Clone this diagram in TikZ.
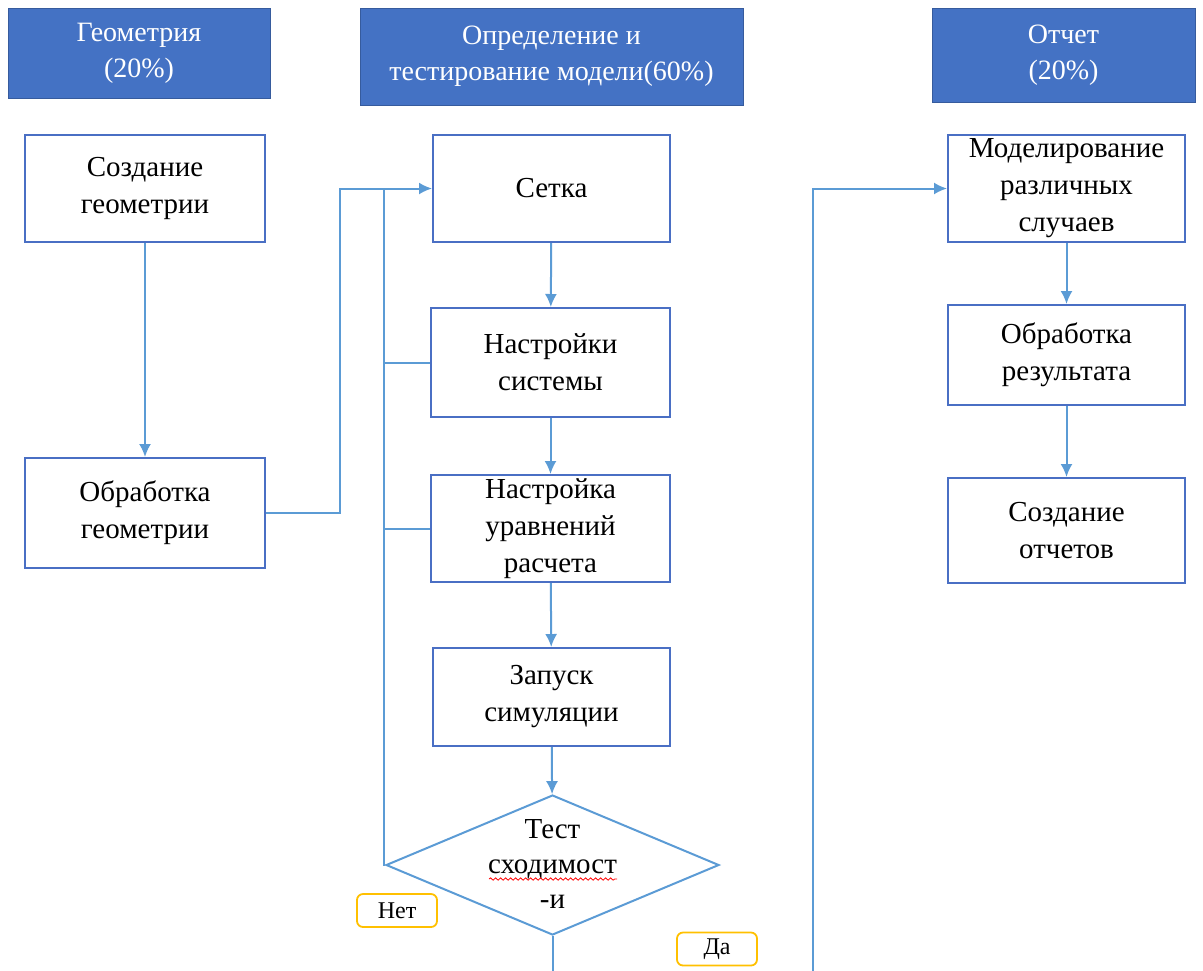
\documentclass[tikz,border=0pt]{standalone}
\usepackage{fontspec}
\setmainfont{Liberation Serif}
\usepackage{tikz}
\usetikzlibrary{shapes,shapes.geometric}
\usetikzlibrary{arrows.meta}
\usetikzlibrary{decorations.pathmorphing}
\definecolor{shapka}{HTML}{4472C4}
\definecolor{ramka}{HTML}{4A6FC4}
\definecolor{strelka}{HTML}{5B9BD5}
\definecolor{metka}{HTML}{FFC000}
\begin{document}
\begin{tikzpicture}[x=0.5pt,y=-0.5pt,
	header/.style={fill=shapka,draw=shapka!80!black,text=white,align=center,font=\fontsize{14}{18}\selectfont,inner sep=0},
	box/.style={draw=ramka,line width=1pt,fill=white,align=center,font=\fontsize{14.5}{18.5}\selectfont,inner sep=0},
	decision/.style={diamond,draw=strelka,line width=1pt,inner sep=0,minimum width=166.5pt,minimum height=70pt},
	tag/.style={draw=metka,line width=0.9pt,rounded corners=3pt,minimum width=40pt,minimum height=16.5pt,font=\fontsize{12}{14}\selectfont,inner sep=0},
	line/.style={draw=strelka,line width=1pt},
	conn/.style={line,-{Latex[length=6.5pt,width=6pt]}}]
			\useasboundingbox (0,0) rectangle (1203,970);
			
			\node[header,minimum width=131pt,minimum height=45pt] (geom) at (139,53) {Геометрия\\(20\%)};
			\node[header,minimum width=191.5pt,minimum height=48.5pt] (model) at (551.5,56.5) {Определение и\\тестирование модели(60\%)};
			\node[header,minimum width=131.5pt,minimum height=47pt] (otchet) at (1063.5,55) {Отчет\\(20\%)};
			
			\node[box,minimum width=120pt,minimum height=53.5pt] (sozd) at (145,188.5) {Создание\\геометрии};
			\node[box,minimum width=120pt,minimum height=55pt] (obrgeo) at (145,513) {Обработка\\геометрии};
			
			\node[box,minimum width=118.5pt,minimum height=53.5pt] (setka) at (551.5,188.5) {Сетка};
			\node[box,minimum width=119.5pt,minimum height=54.5pt] (nastr) at (550.5,362.5) {Настройки\\системы};
			\node[box,minimum width=119.5pt,minimum height=53.5pt] (uravn) at (550.5,528.5) {Настройка\\уравнений\\расчета};
			\node[box,minimum width=118.5pt,minimum height=49pt] (zapusk) at (551.5,697) {Запуск\\симуляции};
			\node[decision] (test) at (552.5,865) {};
			\node[align=center,font=\fontsize{14.5}{17.5}\selectfont] (testtxt) at (552.5,864) {Тест\\сходимост\\-и};
			\draw[red,line width=0.4pt,decorate,decoration={snake,amplitude=0.6pt,segment length=2.5pt}] (489,879) -- (617,879);
			
			\node[box,minimum width=118.5pt,minimum height=53.5pt] (modsl) at (1066.5,188.5) {Моделирование\\различных\\случаев};
			\node[box,minimum width=118.5pt,minimum height=50pt] (obrres) at (1066.5,355) {Обработка\\результата};
			\node[box,minimum width=118.5pt,minimum height=52.5pt] (otch) at (1066.5,530.5) {Создание\\отчетов};
			
			\node[tag] (net) at (397,910.5) {Нет};
			\node[tag] (da) at (717,949) {Да};
			
			\coordinate (bend1) at (340,188.5);
			\coordinate (loopx) at (384,188.5);
			\coordinate (niz1) at (552.5,972);
			\coordinate (niz2) at (813,972);
			
			\draw[conn] (sozd) -- (obrgeo);
			\draw[conn] (obrgeo.east) -| (bend1) -- (setka.west);
			\draw[line] (loopx) |- (test.west);
			\draw[line] (loopx |- nastr.west) -- (nastr.west);
			\draw[line] (loopx |- uravn.west) -- (uravn.west);
			\draw[conn] (setka) -- (nastr);
			\draw[conn] (nastr) -- (uravn);
			\draw[conn] (uravn) -- (zapusk);
			\draw[conn] (zapusk) -- (test);
			\draw[line] (test.south) -- (niz1);
			\draw[conn] (niz2) |- (modsl.west);
			\draw[conn] (modsl) -- (obrres);
			\draw[conn] (obrres) -- (otch);
		\end{tikzpicture}
\end{document}
